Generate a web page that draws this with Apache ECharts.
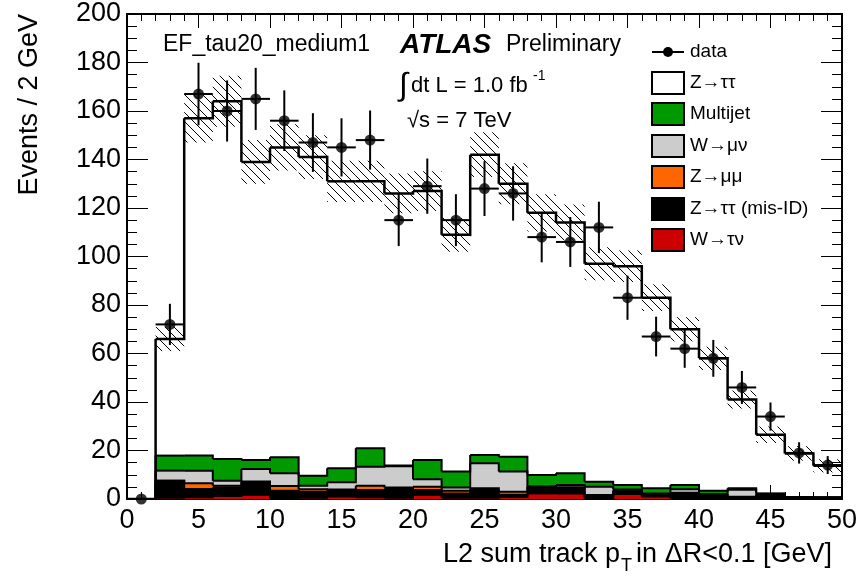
<!DOCTYPE html>
<html>
<head>
<meta charset="utf-8">
<script src="https://cdn.jsdelivr.net/npm/echarts@6/dist/echarts.min.js"></script>
<style>
html, body { margin: 0; padding: 0; background: #fff; }
#chart { width: 863px; height: 588px; }
</style>
</head>
<body>
<div id="chart"></div>
<script>
// bin edges of the L2 sum track pT histogram (GeV)
const binEdges = [0, 2, 4, 6, 8, 10, 12, 14, 16, 18, 20, 22, 24, 26, 28, 30, 32, 34, 36, 38, 40, 42, 44, 46, 48, 50]

// MC components, stacked bottom -> top
const wTauNu = [0, 0.5, 0.7, 1.2, 1.6, 0.3, 0.5, 1.0, 0.7, 0.5, 1.6, 0.5, 0.5, 0.8, 2.3, 2.3, 0.3, 2.1, 1.0, 0.3, 0.3, 0.2, 0.3, 0, 0]
const zTauTauMisId = [0, 7.0, 3.4, 3.5, 5.3, 3.1, 2.5, 2.5, 3.0, 3.6, 2.1, 1.8, 3.2, 1.0, 2.8, 2.0, 0.8, 1.2, 0.8, 1.8, 1.0, 0.6, 1.6, 0.6, 0.5]
const zMuMu = [0, 0, 2.4, 0.8, 0.3, 2.0, 1.0, 0.4, 1.8, 0.6, 1.4, 1.1, 0.7, 1.2, 0, 0.5, 0.5, 0.3, 0.2, 0.5, 0.2, 0.1, 0.1, 0, 0]
const wMuNu = [0, 4.2, 5.2, 2.0, 5.2, 5.2, 1.5, 3.0, 7.8, 8.8, 3.0, 1.3, 10.3, 8.3, 0, 1.0, 3.5, 0.3, 0.3, 1.4, 0.6, 2.9, 0.2, 0.1, 0.2]
const multijet = [0, 6.2, 6.2, 9.0, 3.7, 6.6, 4.1, 5.8, 7.6, 0.3, 8.0, 6.6, 3.4, 6.1, 4.8, 4.8, 2.0, 1.9, 2.1, 1.8, 1.3, 0.6, 0.1, 0.1, 0]
const zTauTau = [0, 48.1, 139.1, 147.5, 122.9, 127.8, 131.4, 118.3, 110.1, 112.2, 110.9, 97.7, 123.9, 112.6, 108.1, 103.4, 89.9, 90.2, 78.6, 64.2, 54.6, 36.6, 24.2, 18.0, 13.0]
// systematic band half-width on the total MC
const mcErr = [0, 5, 10, 10.5, 9, 9.5, 9, 8.5, 8.5, 8.2, 8.2, 7, 9.2, 8.5, 7.7, 7.4, 6.8, 6.5, 5.5, 5, 4.8, 3.7, 3.4, 3, 2.7]

// data
const dataCounts = [0, 72, 167, 160, 165, 156, 147, 145, 148, 115, 129, 115, 128, 126, 108, 106, 112, 83, 67, 62, 58, 46, 34, 19, 14]
const dataErr = [0, 8.5, 12.9, 12.6, 12.8, 12.5, 12.1, 12, 12.2, 10.7, 11.4, 10.7, 11.3, 11.2, 10.4, 10.3, 10.6, 9.1, 8.2, 7.9, 7.6, 6.8, 5.8, 4.4, 3.7]

const FONT = 'Liberation Sans, Arial, Helvetica, sans-serif'

const components = [
  { name: 'W→τν', values: wTauNu, color: '#cc0000' },
  { name: 'Z→ττ (mis-ID)', values: zTauTauMisId, color: '#000000' },
  { name: 'Z→μμ', values: zMuMu, color: '#ff6600' },
  { name: 'W→μν', values: wMuNu, color: '#cccccc' },
  { name: 'Multijet', values: multijet, color: '#009900' },
  { name: 'Z→ττ', values: zTauTau, color: '#ffffff' }
]

// hatch pattern for the uncertainty band
const H = 9
const hatch = document.createElement('canvas')
hatch.width = H
hatch.height = H
const hctx = hatch.getContext('2d')
hctx.strokeStyle = '#000'
hctx.lineWidth = 1
hctx.beginPath()
hctx.moveTo(-1, -1); hctx.lineTo(H + 1, H + 1)
hctx.moveTo(-1, H - 1); hctx.lineTo(1, H + 1)
hctx.moveTo(H - 1, -1); hctx.lineTo(H + 1, 1)
hctx.stroke()

function rectRender(fill, overlap) {
  return function (params, api) {
    const p0 = api.coord([api.value(0), api.value(3)])
    const p1 = api.coord([api.value(1), api.value(2)])
    return {
      type: 'rect',
      shape: { x: p0[0] - overlap, y: p0[1], width: p1[0] - p0[0] + 2 * overlap, height: p1[1] - p0[1] },
      style: { fill, stroke: null }
    }
  }
}

// histogram outline: top of a bin plus the riser to the next bin
function stepRender(width) {
  return function (params, api) {
    const a = api.coord([api.value(0), api.value(2)])
    const b = api.coord([api.value(1), api.value(2)])
    const c = api.coord([api.value(1), api.value(3)])
    return {
      type: 'polyline',
      shape: { points: [a, b, c] },
      style: { stroke: '#000', lineWidth: width, fill: null, lineJoin: 'miter' }
    }
  }
}

const series = []
let base = zTauTau.map(() => 0)
components.forEach((c, k) => {
  const top = base.map((b, i) => b + c.values[i])
  const last = k === components.length - 1
  if (!last) {
    series.push({
      name: c.name + ' fill',
      type: 'custom',
      z: 2,
      silent: true,
      clip: true,
      data: c.values.map((v, i) => [binEdges[i], binEdges[i + 1], base[i], top[i]]).filter(r => r[3] > r[2]),
      renderItem: rectRender(c.color, 0.5)
    })
  }
  series.push({
    name: c.name,
    type: 'custom',
    z: last ? 5 : 3,
    silent: true,
    clip: true,
    data: top.map((t, i) => [binEdges[i], binEdges[i + 1], t, i + 1 < top.length ? top[i + 1] : t]),
    renderItem: stepRender(last ? 2.5 : 2)
  })
  base = top
})
const total = base

series.push({
  name: 'band',
  type: 'custom',
  z: 4,
  silent: true,
  clip: true,
  data: total.map((t, i) => [binEdges[i], binEdges[i + 1], t - mcErr[i], t + mcErr[i]]).filter((r, i) => mcErr[i] > 0),
  renderItem: rectRender({ image: hatch, repeat: 'repeat' }, 0)
})

series.push({
  name: 'data errors',
  type: 'custom',
  z: 6,
  silent: true,
  clip: true,
  data: dataCounts.map((v, i) => [binEdges[i], binEdges[i + 1], v, dataErr[i]]),
  renderItem(params, api) {
    const lo = api.value(0), hi = api.value(1), y = api.value(2), e = api.value(3)
    const xc = (lo + hi) / 2
    const a = api.coord([lo, y]), b = api.coord([hi, y])
    const t = api.coord([xc, y + e]), u = api.coord([xc, y - e])
    const style = { stroke: '#000', lineWidth: 2 }
    return {
      type: 'group',
      children: [
        { type: 'line', shape: { x1: a[0], y1: a[1], x2: b[0], y2: b[1] }, style },
        { type: 'line', shape: { x1: t[0], y1: t[1], x2: u[0], y2: u[1] }, style }
      ]
    }
  }
})

series.push({
  name: 'data',
  type: 'scatter',
  z: 7,
  silent: true,
  symbol: 'circle',
  symbolSize: 11,
  itemStyle: { color: '#000' },
  data: dataCounts.map((v, i) => [(binEdges[i] + binEdges[i + 1]) / 2, v])
})

function xAxisDef(pos, labels) {
  return {
    type: 'value', position: pos, min: 0, max: 50, interval: 5,
    axisLine: { show: true, onZero: false, lineStyle: { color: '#000', width: 2 } },
    axisTick: { show: true, inside: true, length: 14, lineStyle: { color: '#000', width: 1 } },
    minorTick: { show: true, splitNumber: 5, length: 7, lineStyle: { color: '#000', width: 1 } },
    axisLabel: { show: labels, color: '#000', fontSize: 27, fontFamily: FONT, margin: 8, showMinLabel: true, showMaxLabel: true },
    splitLine: { show: false }
  }
}
function yAxisDef(pos, labels) {
  return {
    type: 'value', position: pos, min: 0, max: 200, interval: 20,
    axisLine: { show: true, onZero: false, lineStyle: { color: '#000', width: 2 } },
    axisTick: { show: true, inside: true, length: 21, lineStyle: { color: '#000', width: 1 } },
    minorTick: { show: true, splitNumber: 4, length: 10, lineStyle: { color: '#000', width: 1 } },
    axisLabel: { show: labels, color: '#000', fontSize: 27, fontFamily: FONT, margin: 6, showMinLabel: true, showMaxLabel: true },
    splitLine: { show: false }
  }
}

// legend rows (drawn by hand, ROOT style)
const legendRows = [
  { label: 'data', y: 52 },
  { label: 'Z→ττ', y: 83, color: '#ffffff' },
  { label: 'Multijet', y: 114, color: '#009900' },
  { label: 'W→μν', y: 146, color: '#cccccc' },
  { label: 'Z→μμ', y: 177, color: '#ff6600' },
  { label: 'Z→ττ (mis-ID)', y: 209, color: '#000000' },
  { label: 'W→τν', y: 240, color: '#cc0000' }
]
const graphic = []
legendRows.forEach(r => {
  if (r.color) {
    graphic.push({ type: 'rect', shape: { x: 652, y: r.y - 11, width: 32, height: 22 },
      style: { fill: r.color, stroke: '#000', lineWidth: 2 } })
  } else {
    graphic.push({ type: 'line', shape: { x1: 652, y1: r.y, x2: 684, y2: r.y }, style: { stroke: '#000', lineWidth: 2 } })
    graphic.push({ type: 'circle', shape: { cx: 668, cy: r.y, r: 5 }, style: { fill: '#000' } })
  }
  graphic.push({ type: 'text', x: 690, y: r.y,
    style: { text: r.label, fontSize: 19, fontFamily: FONT, fill: '#000', verticalAlign: 'middle' } })
})

const txt = (x, y, text, size, extra) => ({ type: 'text', x, y,
  style: Object.assign({ text, fontSize: size, fontFamily: FONT, fill: '#000', verticalAlign: 'middle' }, extra || {}) })

graphic.push(
  txt(163, 45, 'EF_tau20_medium1', 23),
  txt(400, 45, 'ATLAS', 28, { fontWeight: 'bold', fontStyle: 'italic' }),
  txt(506, 45, 'Preliminary', 23),
  txt(399, 86, '∫', 32),
  txt(411, 86, 'dt L = 1.0 fb', 22),
  txt(533, 76, '-1', 14),
  txt(407, 121, '√s = 7 TeV', 22),
  txt(620, 555, 'L2 sum track p', 27, { align: 'right' }),
  txt(621, 566, 'T', 18),
  txt(832, 555, ' in ΔR<0.1 [GeV]', 27, { align: 'right' })
)
const yTitle = txt(30, 14, 'Events / 2 GeV', 27, { align: 'right' })
yTitle.rotation = Math.PI / 2
graphic.push(yTitle)

const chart = echarts.init(document.getElementById('chart'), null, { renderer: 'canvas' })
chart.setOption({
  animation: false,
  backgroundColor: '#fff',
  grid: { left: 127, right: 21, top: 14, bottom: 89, containLabel: false, outerBoundsMode: 'none' },
  xAxis: [xAxisDef('bottom', true), xAxisDef('top', false)],
  yAxis: [yAxisDef('left', true), yAxisDef('right', false)],
  series,
  graphic
})
</script>
</body>
</html>
